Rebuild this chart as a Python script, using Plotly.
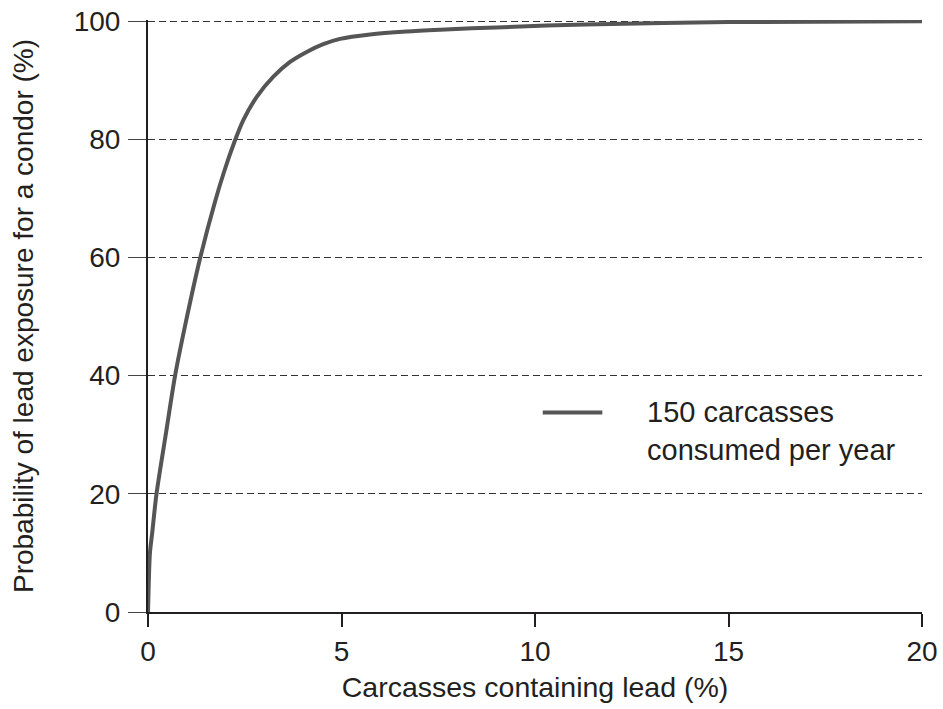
import plotly.graph_objects as go

# Data
lead_pct = [0, 0.02, 0.05, 0.11, 0.22, 0.47, 0.7, 0.96, 1.34, 1.73, 1.97, 2.23,
            2.46, 2.81, 3.24, 3.67, 4.1, 4.53, 4.96, 5.74, 6.68, 7.55, 9, 11.3, 15, 20]
exposure_pct = [0, 5, 10, 13.5, 20, 30.5, 40, 48.5, 59.7, 69.4, 74.6, 79.5,
                83.2, 87.2, 90.6, 93.1, 94.8, 96.1, 97.0, 97.75, 98.25, 98.55, 98.95, 99.45, 99.85, 100]

x_ticks = [0, 5, 10, 15, 20]
y_ticks = [0, 20, 40, 60, 80, 100]
series_name = "150 carcasses<br>consumed per year"

FONT = "Liberation Sans, Arial, sans-serif"
INK = "#231f20"

fig = go.Figure()
fig.add_trace(go.Scatter(
    x=lead_pct, y=exposure_pct, mode="lines",
    line=dict(color="#555555", width=4, shape="spline", smoothing=0.8),
    showlegend=False, name="150 carcasses consumed per year",
))

fig.update_layout(
    width=943, height=709,
    margin=dict(l=148, r=21, t=20, b=97),
    paper_bgcolor="white", plot_bgcolor="white",
    font=dict(family=FONT, size=28, color=INK),
    xaxis=dict(
        range=[0, 20], tickvals=x_ticks, showgrid=False, zeroline=False,
        automargin=False, ticklabeloverflow="allow",
        showline=True, linecolor=INK, linewidth=2,
        ticks="outside", ticklen=13, tickwidth=1.5, tickcolor=INK,
        tickfont=dict(size=28),
        title=dict(text="Carcasses containing lead (%)", font=dict(size=28.5), standoff=11),
    ),
    yaxis=dict(
        range=[0, 100.2], tickvals=y_ticks, zeroline=False,
        automargin=False, ticklabeloverflow="allow",
        showgrid=True, gridcolor="#333333", griddash="7px,4px", gridwidth=1,
        showline=True, linecolor=INK, linewidth=2,
        ticks="outside", ticklen=18, tickwidth=1, tickcolor="#444444",
        ticklabelstandoff=2,
        tickfont=dict(size=28),
        title=dict(text="Probability of lead exposure for a condor (%)", font=dict(size=28), standoff=32),
    ),
)

# Legend key drawn manually
fig.add_shape(type="line", xref="paper", yref="paper",
              x0=0.510, x1=0.587, y0=0.337, y1=0.337,
              line=dict(color="#555555", width=4))
fig.add_annotation(xref="paper", yref="paper", x=0.642, y=0.306,
                   xanchor="left", yanchor="middle", align="left",
                   text=series_name, showarrow=False,
                   font=dict(size=29, color=INK))

# remove the default page margin so the figure fills the window exactly
fig.write_html("out.html",
               config={"displayModeBar": False},
               post_script="document.body.style.margin='0';document.body.style.overflow='hidden';")
